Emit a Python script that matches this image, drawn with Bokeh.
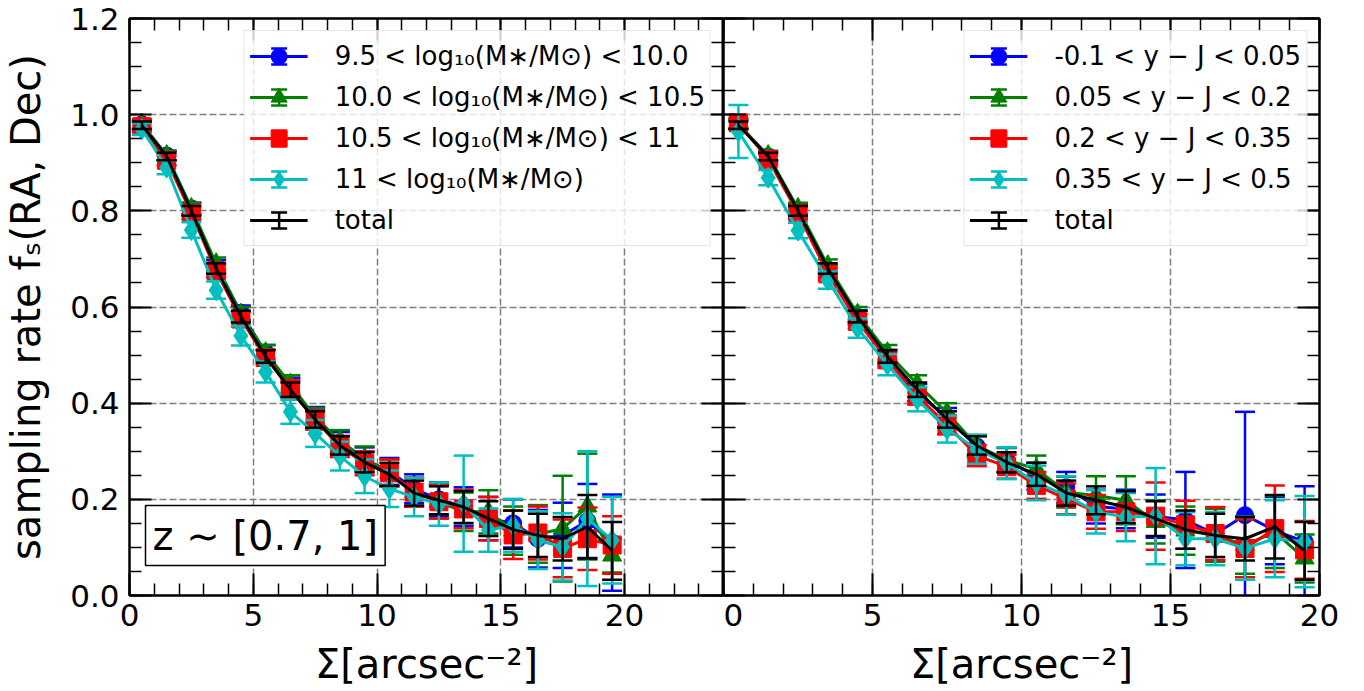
from bokeh.plotting import figure
from bokeh.layouts import row
from bokeh.models import (ColumnDataSource, Legend, LegendItem, LinearAxis, SingleIntervalTicker,
                          PrintfTickFormatter, CustomJSTickFormatter, Label)
from bokeh.embed import file_html
from bokeh.resources import INLINE

# ---------------- data ----------------
sigma = [0.5, 1.5, 2.5, 3.5, 4.5, 5.5, 6.5, 7.5, 8.5, 9.5,
         10.5, 11.5, 12.5, 13.5, 14.5, 15.5, 16.5, 17.5, 18.5, 19.5]

mass_labels = ["9.5 < log₁₀(M∗/M⊙) < 10.0", "10.0 < log₁₀(M∗/M⊙) < 10.5",
               "10.5 < log₁₀(M∗/M⊙) < 11", "11 < log₁₀(M∗/M⊙)"]
color_labels = ["-0.1 < y − J < 0.05", "0.05 < y − J < 0.2",
                "0.2 < y − J < 0.35", "0.35 < y − J < 0.5"]
total_label = "total"

# left panel (stellar-mass bins)
m1 = [0.980, 0.915, 0.805, 0.685, 0.588, 0.505, 0.435, 0.372, 0.318, 0.283,
      0.258, 0.222, 0.200, 0.185, 0.160, 0.150, 0.118, 0.125, 0.155, 0.110]
m1_err = [0.010, 0.010, 0.012, 0.013, 0.015, 0.016, 0.018, 0.020, 0.022, 0.025,
          0.028, 0.030, 0.035, 0.040, 0.045, 0.050, 0.060, 0.068, 0.077, 0.100]
m2 = [0.980, 0.915, 0.805, 0.690, 0.585, 0.505, 0.440, 0.370, 0.322, 0.285,
      0.255, 0.215, 0.195, 0.174, 0.174, 0.135, 0.128, 0.139, 0.185, 0.083]
m2_err = [0.010, 0.010, 0.012, 0.013, 0.015, 0.016, 0.018, 0.020, 0.022, 0.025,
          0.028, 0.030, 0.035, 0.040, 0.045, 0.050, 0.060, 0.110, 0.110, 0.035]
m3 = [0.975, 0.905, 0.795, 0.675, 0.575, 0.495, 0.430, 0.365, 0.310, 0.275,
      0.255, 0.215, 0.195, 0.180, 0.160, 0.126, 0.130, 0.098, 0.118, 0.105]
m3_err = [0.010, 0.010, 0.012, 0.013, 0.015, 0.016, 0.018, 0.020, 0.022, 0.025,
          0.028, 0.030, 0.035, 0.040, 0.045, 0.050, 0.055, 0.060, 0.065, 0.060]
m4 = [0.970, 0.890, 0.760, 0.635, 0.540, 0.465, 0.382, 0.337, 0.290, 0.248,
      0.222, 0.205, 0.190, 0.191, 0.136, 0.146, 0.115, 0.101, 0.160, 0.115]
m4_err = [0.012, 0.014, 0.016, 0.018, 0.020, 0.022, 0.025, 0.028, 0.030, 0.035,
          0.038, 0.040, 0.045, 0.100, 0.045, 0.055, 0.060, 0.070, 0.140, 0.090]

# total sample (both panels)
tot = [0.978, 0.913, 0.800, 0.680, 0.580, 0.497, 0.428, 0.366, 0.312, 0.277,
       0.252, 0.213, 0.198, 0.184, 0.160, 0.137, 0.125, 0.118, 0.143, 0.093]
tot_err = [0.008, 0.008, 0.010, 0.011, 0.012, 0.013, 0.015, 0.017, 0.019, 0.021,
           0.024, 0.026, 0.029, 0.033, 0.036, 0.040, 0.045, 0.045, 0.066, 0.060]

# right panel (y-J colour bins)
c1 = [0.980, 0.913, 0.800, 0.675, 0.578, 0.495, 0.422, 0.370, 0.310, 0.282,
      0.248, 0.225, 0.185, 0.180, 0.165, 0.157, 0.128, 0.167, 0.135, 0.112]
c1_err = [0.010, 0.010, 0.012, 0.013, 0.015, 0.016, 0.018, 0.020, 0.022, 0.025,
          0.028, 0.032, 0.035, 0.040, 0.045, 0.100, 0.055, 0.215, 0.070, 0.115]
c2 = [0.980, 0.915, 0.805, 0.686, 0.585, 0.505, 0.440, 0.380, 0.312, 0.282,
      0.263, 0.215, 0.208, 0.198, 0.153, 0.135, 0.125, 0.105, 0.132, 0.077]
c2_err = [0.010, 0.010, 0.012, 0.013, 0.015, 0.016, 0.018, 0.020, 0.022, 0.025,
          0.028, 0.032, 0.040, 0.050, 0.045, 0.050, 0.055, 0.060, 0.075, 0.050]
c3 = [0.983, 0.907, 0.795, 0.669, 0.570, 0.490, 0.415, 0.355, 0.291, 0.268,
      0.229, 0.201, 0.174, 0.174, 0.165, 0.147, 0.129, 0.098, 0.139, 0.095]
c3_err = [0.010, 0.010, 0.012, 0.013, 0.015, 0.016, 0.018, 0.020, 0.022, 0.025,
          0.028, 0.032, 0.035, 0.040, 0.070, 0.050, 0.055, 0.060, 0.090, 0.060]
c4 = [0.965, 0.869, 0.759, 0.656, 0.556, 0.480, 0.408, 0.346, 0.304, 0.275,
      0.234, 0.208, 0.174, 0.163, 0.165, 0.118, 0.118, 0.098, 0.118, 0.112]
c4_err = [0.055, 0.016, 0.016, 0.018, 0.020, 0.022, 0.025, 0.028, 0.030, 0.033,
          0.036, 0.040, 0.045, 0.050, 0.100, 0.055, 0.055, 0.065, 0.080, 0.095]

colors = ["#0000ff", "#008000", "#ff0000", "#00bfbf"]
markers = ["circle", "triangle", "square", "diamond"]
msizes = [17, 19, 18, 21]

FONT = "DejaVu Sans"
NAN = float("nan")


def style_axis(ax, show_labels=True):
    ax.major_tick_in = 22
    ax.major_tick_out = 0
    ax.minor_tick_in = 12
    ax.minor_tick_out = 0
    ax.major_tick_line_width = 2
    ax.minor_tick_line_width = 1.5
    ax.major_tick_line_color = "black"
    ax.minor_tick_line_color = "black"
    ax.axis_line_width = 2
    ax.axis_line_color = "black"
    ax.major_label_text_font = FONT
    ax.major_label_text_font_size = "31px"
    ax.major_label_text_color = "black"
    ax.axis_label_text_font = FONT
    ax.axis_label_text_font_size = "40px"
    ax.axis_label_text_font_style = "normal"
    ax.axis_label_text_color = "black"
    if not show_labels:
        ax.formatter = CustomJSTickFormatter(code="return ''")
        ax.major_label_standoff = 0


def make_panel(width, xmax, left_border, right_border, show_ylabels):
    p = figure(width=width, height=691, x_range=(0, xmax), y_range=(0, 1.2000001),
               output_backend="svg", toolbar_location=None, title=None,
               min_border_left=left_border, min_border_right=right_border,
               min_border_top=18, min_border_bottom=96)
    p.outline_line_color = "black"
    p.outline_line_width = 2
    p.background_fill_color = "white"
    p.border_fill_color = "white"

    p.xaxis.ticker = SingleIntervalTicker(interval=5, num_minor_ticks=5)
    p.yaxis.ticker = SingleIntervalTicker(interval=0.2, num_minor_ticks=4)
    style_axis(p.xaxis[0])
    p.xaxis.major_label_standoff = 8
    p.xaxis.axis_label = "Σ[arcsec⁻²]"
    p.xaxis.axis_label_standoff = 12
    style_axis(p.yaxis[0], show_labels=show_ylabels)
    if show_ylabels:
        p.yaxis.formatter = PrintfTickFormatter(format="%.1f")
        p.yaxis.major_label_standoff = 10
        p.yaxis.axis_label = "sampling rate fₛ(RA, Dec)"
        p.yaxis.axis_label_standoff = 18

    top = LinearAxis(ticker=SingleIntervalTicker(interval=5, num_minor_ticks=5))
    style_axis(top, show_labels=False)
    p.add_layout(top, "above")
    right = LinearAxis(ticker=SingleIntervalTicker(interval=0.2, num_minor_ticks=4))
    style_axis(right, show_labels=False)
    p.add_layout(right, "right")

    for g in (p.xgrid[0], p.ygrid[0]):
        g.grid_line_color = "#808080"
        g.grid_line_dash = "7 3"
        g.grid_line_width = 1.5
    return p


def add_series(p, y, err, color, marker, msize):
    lo = [a - b for a, b in zip(y, err)]
    hi = [a + b for a, b in zip(y, err)]
    src = ColumnDataSource(dict(x=sigma, y=y, lo=lo, hi=hi))
    p.segment(x0="x", y0="lo", x1="x", y1="hi", source=src, line_color=color, line_width=2.5)
    p.scatter(x="x", y="lo", marker="dash", size=20, line_color=color, line_width=2.5, source=src)
    p.scatter(x="x", y="hi", marker="dash", size=20, line_color=color, line_width=2.5, source=src)
    ln = p.line(x="x", y="y", source=src, line_color=color, line_width=3)
    rends = [ln]
    # legend-only error-bar glyph (vertical bar with caps); NaN point is never drawn in the plot
    bar = p.scatter(x=[NAN], y=[NAN], marker="cross", line_color=color, line_width=2.5)
    cap = p.scatter(x=[NAN], y=[NAN], marker="square", fill_alpha=0, line_color=color,
                    line_width=2.5, line_dash="16 16")
    rends += [bar, cap]
    if marker is not None:
        mk = p.scatter(x="x", y="y", source=src, marker=marker, size=msize,
                       fill_color=color, line_color=color)
        rends.append(mk)
    return rends


def add_legend(p, items):
    leg = Legend(items=items, location="top_right", margin=12,
                 label_text_font=FONT, label_text_font_size="26px",
                 label_text_color="black",
                 glyph_width=58, glyph_height=40, spacing=1, padding=5,
                 label_standoff=27, border_line_color="#cccccc",
                 border_line_width=1.5, background_fill_color="white",
                 background_fill_alpha=0.8)
    p.add_layout(leg)


# ---------------- left panel ----------------
p1 = make_panel(723, 24, 128, 0, True)
items1 = []
for y, e, lab, c, m, s in zip([m1, m2, m3, m4], [m1_err, m2_err, m3_err, m4_err],
                              mass_labels, colors, markers, msizes):
    items1.append(LegendItem(label=lab, renderers=add_series(p1, y, e, c, m, s)))
items1.append(LegendItem(label=total_label, renderers=add_series(p1, tot, tot_err, "black", None, 0)))
add_legend(p1, items1)

zlabel = Label(x=16, y=30, x_units="screen", y_units="screen", text="z ∼ [0.7, 1]",
               text_font=FONT, text_font_size="40px", text_color="black",
               text_align="left", text_baseline="bottom",
               border_line_color="black", border_line_width=1.5,
               background_fill_color="white", padding=7)
p1.add_layout(zlabel)

# ---------------- right panel ----------------
p2 = make_panel(641, 20, 0, 45, False)
items2 = []
for y, e, lab, c, m, s in zip([c1, c2, c3, c4], [c1_err, c2_err, c3_err, c4_err],
                              color_labels, colors, markers, msizes):
    items2.append(LegendItem(label=lab, renderers=add_series(p2, y, e, c, m, s)))
items2.append(LegendItem(label=total_label, renderers=add_series(p2, tot, tot_err, "black", None, 0)))
add_legend(p2, items2)

layout = row(p1, p2)
open("out.html", "w").write(file_html(layout, INLINE))
